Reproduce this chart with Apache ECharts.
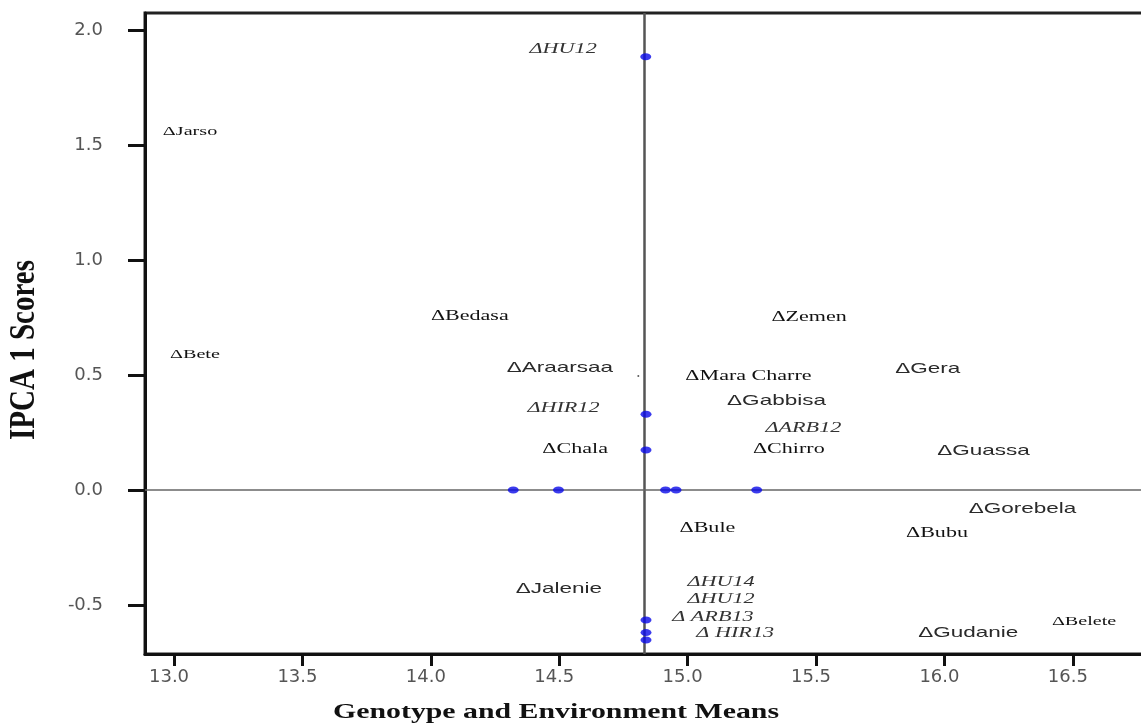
<!DOCTYPE html>
<html>
<head>
<meta charset="utf-8">
<script src="https://cdn.jsdelivr.net/npm/echarts@6/dist/echarts.min.js"></script>
<style>
html, body { margin: 0; padding: 0; background: #fff; }
#main { width: 1141px; height: 725px; }
</style>
</head>
<body>
<div id="main"></div>
<script>
// genotype / environment labels (position of the triangle marker)
var labelNames = ['ΔJarso', 'ΔHU12', 'ΔBete', 'ΔBedasa', 'ΔAraarsaa', 'ΔHIR12', 'ΔChala',
    'ΔMara Charre', 'ΔGabbisa', 'ΔZemen', 'ΔARB12', 'ΔChirro', 'ΔGera', 'ΔGuassa',
    'ΔGorebela', 'ΔBule', 'ΔBubu', 'ΔJalenie', 'ΔHU14', 'ΔHU12', 'Δ ARB13', 'Δ HIR13',
    'ΔGudanie', 'ΔBelete'];
var labelX = [12.98, 14.41, 13.008, 14.026, 14.322, 14.402, 14.46,
    15.017, 15.18, 15.352, 15.329, 15.28, 15.835, 15.998,
    16.121, 14.994, 15.876, 14.357, 15.025, 15.025, 14.966, 15.06,
    15.924, 16.442];
var labelY = [1.557, 1.917, 0.59, 0.758, 0.532, 0.358, 0.177,
    0.497, 0.387, 0.754, 0.268, 0.178, 0.526, 0.171,
    -0.083, -0.167, -0.188, -0.428, -0.399, -0.475, -0.551, -0.623,
    -0.62, -0.573];
var labelKind = ['small', 'ital', 'small', 'serif', 'sans', 'ital', 'serif',
    'serif', 'sans', 'serif', 'ital', 'serif', 'sans', 'sans',
    'sans', 'serif', 'serif', 'sans', 'ital', 'ital', 'ital', 'ital',
    'sans', 'small'];

// blue points
var dotX = [14.837, 14.838, 14.838, 14.321, 14.497, 14.914, 14.955, 15.269, 14.838, 14.838, 14.838];
var dotY = [1.884, 0.329, 0.174, 0, 0, 0, 0, 0, -0.565, -0.62, -0.652];
var strayX = [14.808];
var strayY = [0.496];

var xTicks = [13.0, 13.5, 14.0, 14.5, 15.0, 15.5, 16.0, 16.5];
var yTicks = [-0.5, 0.0, 0.5, 1.0, 1.5, 2.0];
var grandMean = 14.828;

var kindStyle = {
    sans:  { family: '"Liberation Sans", Arial, sans-serif', size: 15, style: 'normal', color: '#2a2a2a', scale: 1.5 },
    serif: { family: '"Liberation Serif", "Times New Roman", serif', size: 15, style: 'normal', color: '#111', scale: 1.47 },
    small: { family: '"Liberation Serif", "Times New Roman", serif', size: 13, style: 'normal', color: '#111', scale: 1.55 },
    ital:  { family: '"Liberation Serif", "Times New Roman", serif', size: 15, style: 'italic', color: '#333', scale: 1.48 }
};

function pairs(xs, ys) {
    var out = [];
    for (var i = 0; i < xs.length; i++) {
        out.push([xs[i], ys[i]]);
    }
    return out;
}

var myChart = echarts.init(document.getElementById('main'));

var option = {
    animation: false,
    backgroundColor: '#fff',
    grid: {
        left: 145,
        top: 13,
        width: 1010,
        height: 641,
        outerBoundsMode: 'none',
        containLabel: false,
        show: true,
        borderColor: '#222',
        borderWidth: 3
    },
    xAxis: {
        type: 'value',
        min: 12.887,
        max: 16.82,
        splitLine: { show: false },
        axisLine: { show: true, onZero: false, lineStyle: { color: '#111', width: 3 } },
        axisTick: { show: true, length: 12, customValues: xTicks, lineStyle: { color: '#111', width: 3 } },
        axisLabel: {
            customValues: xTicks,
            formatter: function(v) { return v.toFixed(1); },
            margin: 14,
            padding: [0, 10, 0, 0],
            fontFamily: '"DejaVu Sans", sans-serif',
            fontSize: 18,
            color: '#555'
        }
    },
    yAxis: {
        type: 'value',
        min: -0.713,
        max: 2.074,
        splitLine: { show: false },
        axisLine: { show: true, onZero: false, lineStyle: { color: '#111', width: 3 } },
        axisTick: { show: true, length: 17, customValues: yTicks, lineStyle: { color: '#111', width: 3 } },
        axisLabel: {
            customValues: yTicks,
            formatter: function(v) { return v.toFixed(1); },
            margin: 42,
            padding: [0, 0, 17, 0],
            fontFamily: '"DejaVu Sans", sans-serif',
            fontSize: 18,
            color: '#555'
        }
    },
    graphic: [
        {
            type: 'text',
            x: 556,
            y: 713,
            scaleX: 1.42,
            style: {
                text: 'Genotype and Environment Means',
                fontFamily: '"Liberation Serif", "Times New Roman", serif',
                fontWeight: 'bold',
                fontSize: 21,
                fill: '#111',
                align: 'center',
                verticalAlign: 'middle'
            }
        },
        {
            type: 'text',
            x: 25,
            y: 350,
            rotation: Math.PI / 2,
            scaleY: 1.2,
            style: {
                text: 'IPCA 1 Scores',
                fontFamily: '"Liberation Serif", "Times New Roman", serif',
                fontWeight: 'bold',
                fontSize: 29,
                fill: '#111',
                align: 'center',
                verticalAlign: 'middle'
            }
        }
    ],
    series: [
        {
            // reference lines (grand mean, zero) + stray point
            type: 'scatter',
            z: 1,
            symbolSize: 2,
            itemStyle: { color: '#333' },
            data: pairs(strayX, strayY),
            markLine: {
                z: 1,
                silent: true,
                symbol: 'none',
                label: { show: false },
                data: [
                    { xAxis: grandMean, lineStyle: { color: '#555', width: 2.5, type: 'solid' } },
                    { yAxis: 0, lineStyle: { color: '#666', width: 1.5, type: 'solid' } }
                ]
            }
        },
        {
            type: 'scatter',
            z: 4,
            symbol: 'circle',
            symbolSize: [11, 7],
            itemStyle: { color: '#0a0ae8' },
            data: pairs(dotX, dotY)
        },
        {
            type: 'custom',
            z: 5,
            silent: true,
            data: pairs(labelX, labelY),
            renderItem: function(params, api) {
                var i = params.dataIndex;
                var p = api.coord([api.value(0), api.value(1)]);
                var st = kindStyle[labelKind[i]];
                return {
                    type: 'text',
                    x: p[0] - st.size * 0.3 * st.scale,
                    y: p[1],
                    scaleX: st.scale,
                    style: {
                        text: labelNames[i],
                        fontFamily: st.family,
                        fontSize: st.size,
                        fontStyle: st.style,
                        fill: st.color,
                        align: 'left',
                        verticalAlign: 'middle'
                    }
                };
            }
        }
    ]
};

myChart.setOption(option);
</script>
</body>
</html>
